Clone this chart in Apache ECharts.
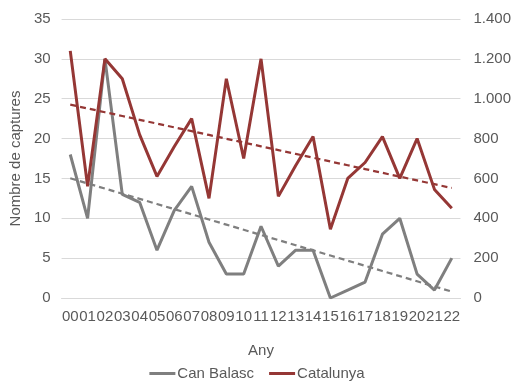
<!DOCTYPE html>
<html>
<head>
<meta charset="utf-8">
<script src="https://cdn.jsdelivr.net/npm/echarts@6/dist/echarts.min.js"></script>
<style>html,body{margin:0;padding:0;background:#fff}#c{width:514px;height:385px}</style>
</head>
<body>
<div id="c"></div>
<script>
var years = ['00','01','02','03','04','05','06','07','08','09','10','11','12','13','14','15','16','17','18','19','20','21','22'];
var canBalasc = [18,10,30,13,12,6,11,14,7,3,3,9,4,6,6,0,1,2,8,10,3,1,5];
var catalunya = [1240,560,1200,1100,820,610,760,900,500,1100,700,1200,510,665,810,345,600,680,810,600,800,545,450];
var leftTicks = [0,5,10,15,20,25,30,35];
var rightTicks = [0,200,400,600,800,1000,1200,1400];

function trend(vals){
  var n = vals.length, sx=0, sy=0, sxy=0, sxx=0;
  for (var i=0;i<n;i++){ sx+=i; sy+=vals[i]; sxy+=i*vals[i]; sxx+=i*i; }
  var b = (n*sxy - sx*sy)/(n*sxx - sx*sx);
  var a = (sy - b*sx)/n;
  return vals.map(function(_,i){ return +(a + b*i).toFixed(3); });
}

var gray = '#7f7f7f', red = '#953735', txt = '#595959', font = 'Liberation Sans, Arial, sans-serif';
var chart = echarts.init(document.getElementById('c'), null, {renderer:'canvas'});
chart.setOption({
  animation:false,
  textStyle:{fontFamily:font},
  grid:{left:58, right:52, top:19, bottom:87, containLabel:false},
  legend:{
    top:361, left:'center', itemWidth:26, itemHeight:3, itemGap:15, icon:'rect',
    data:['Can Balasc','Catalunya'],
    textStyle:{color:txt, fontSize:15, fontFamily:font, padding:[0,0,0,-3]}
  },
  xAxis:{
    type:'category', data:years, boundaryGap:true,
    name:'Any', nameLocation:'middle', nameGap:45,
    nameTextStyle:{color:txt, fontSize:15, fontFamily:font},
    axisLine:{show:true, lineStyle:{color:'#d9d9d9'}}, axisTick:{show:false},
    axisLabel:{color:txt, fontSize:15, interval:0, margin:11, fontFamily:font, hideOverlap:false}
  },
  yAxis:[{
    type:'value', min:0, max:35, interval:5,
    name:'Nombre de captures', nameLocation:'middle', nameGap:30,
    nameTextStyle:{color:txt, fontSize:15, fontFamily:font},
    axisLine:{show:false}, axisTick:{show:false},
    axisLabel:{color:txt, fontSize:15, margin:11, fontFamily:font},
    splitLine:{lineStyle:{color:'#d9d9d9', width:1}}
  },{
    type:'value', min:0, max:1400, interval:200, position:'right',
    axisLine:{show:false}, axisTick:{show:false},
    axisLabel:{color:txt, fontSize:15, margin:13, fontFamily:font,
      formatter:function(v){ return v>=1000 ? String(v).replace(/(\d)(\d{3})$/,'$1.$2') : String(v); }},
    splitLine:{show:false}
  }],
  series:[
    {name:'Can Balasc', type:'line', yAxisIndex:0, data:canBalasc, symbol:'none',
     lineStyle:{color:gray, width:3}, itemStyle:{color:gray}, z:3},
    {name:'Catalunya', type:'line', yAxisIndex:1, data:catalunya, symbol:'none',
     lineStyle:{color:red, width:3}, itemStyle:{color:red}, z:3},
    {name:'trendCB', type:'line', yAxisIndex:0, data:trend(canBalasc), symbol:'none',
     lineStyle:{color:gray, width:2.25, type:[6,4]}, itemStyle:{color:gray}, z:4, silent:true},
    {name:'trendCat', type:'line', yAxisIndex:1, data:trend(catalunya), symbol:'none',
     lineStyle:{color:red, width:2.25, type:[6,4]}, itemStyle:{color:red}, z:4, silent:true}
  ]
});
</script>
</body>
</html>
